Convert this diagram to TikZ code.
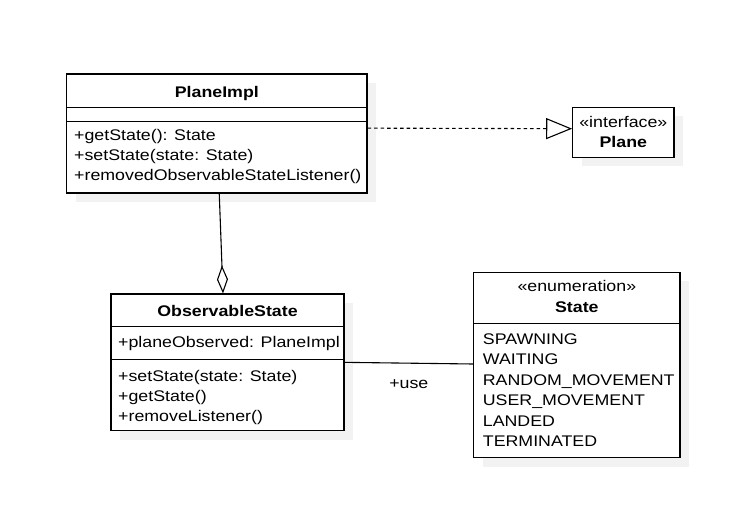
\documentclass[tikz,border=0pt]{standalone}
\usepackage{fontspec}
\setmainfont{Liberation Sans}[FakeStretch=1.155]
\usetikzlibrary{arrows.meta,shadows}

\begin{document}
\begin{tikzpicture}[x=1pt,y=-1pt]
\tikzset{
  classbox/.style={rectangle,draw=black,fill=white,line width=1.1pt,inner sep=0pt,
    drop shadow={shadow xshift=9pt,shadow yshift=-9pt,fill=black!5,opacity=1}},
  classname/.style={inner sep=0pt,anchor=base,font=\fontsize{15.4}{20}\selectfont\bfseries},
  stereotype/.style={inner sep=0pt,anchor=base,font=\fontsize{15.4}{20}\selectfont},
  member/.style={inner sep=0pt,anchor=base west,font=\fontsize{15.4}{20}\selectfont},
  divider/.style={draw=black,line width=1.1pt},
  umledge/.style={draw=black,line width=1.1pt},
  realizes/.style={umledge,dash pattern=on 3.5pt off 3pt,-{Triangle[open,length=26pt,width=21pt]}},
  aggregates/.style={umledge,-{Diamond[open,length=28pt,width=11pt]}},
  associates/.style={umledge}
}
\useasboundingbox (0,0) rectangle (753,513);
\node[classbox,minimum width=300.3pt,minimum height=119pt] (n_planeimpl) at (216.85,133.5) {};
\node[classbox,minimum width=101.3pt,minimum height=50pt] (n_plane) at (623.35,132.3) {};
\node[classbox,minimum width=233pt,minimum height=136.7pt] (n_observable) at (227.5,362.35) {};
\node[classbox,minimum width=206.3pt,minimum height=185.4pt] (n_state) at (576.85,365) {};
\draw[divider] ([yshift=-33.7pt]n_planeimpl.north west) -- ([yshift=-33.7pt]n_planeimpl.north east);
\draw[divider] ([yshift=-47.7pt]n_planeimpl.north west) -- ([yshift=-47.7pt]n_planeimpl.north east);
\draw[divider] ([yshift=-33.3pt]n_observable.north west) -- ([yshift=-33.3pt]n_observable.north east);
\draw[divider] ([yshift=-66pt]n_observable.north west) -- ([yshift=-66pt]n_observable.north east);
\draw[divider] ([yshift=-51.7pt]n_state.north west) -- ([yshift=-51.7pt]n_state.north east);
\node[classname] (n_planeimpl_name) at (216.85,97.5) {PlaneImpl};
\node[stereotype] (n_plane_st) at (623.35,128) {«interface»};
\node[classname] (n_plane_name) at (623.35,148) {Plane};
\node[classname] (n_observable_name) at (227.5,316.7) {ObservableState};
\node[stereotype] (n_state_st) at (576.85,292) {«enumeration»};
\node[classname] (n_state_name) at (576.85,312.8) {State};
\foreach \txt [count=\i] in {+getState(): State,+setState(state: State),+removedObservableStateListener()}
  \node[member] (n_planeimpl_m\i) at (74,{141+20*(\i-1)}) {\txt};
\node[member] (n_observable_a1) at (118,347.7) {+planeObserved: PlaneImpl};
\foreach \txt [count=\i] in {+setState(state: State),+getState(),+removeListener()}
  \node[member] (n_observable_m\i) at (118,{381.2+20.3*(\i-1)}) {\txt};
\foreach \txt [count=\i] in {SPAWNING,WAITING,RANDOM\_MOVEMENT,USER\_MOVEMENT,LANDED,TERMINATED}
  \node[member] (n_state_v\i) at (482.7,{344.3+20.5*(\i-1)}) {\txt};
\draw[realizes] ([yshift=-54.7pt]n_planeimpl.north east) -- ([yshift=3.6pt]n_plane.west);
\draw[aggregates] ([xshift=2.4pt]n_planeimpl.south) -- ([xshift=-4.5pt]n_observable.north);
\draw[associates] (n_observable.east) -- ([yshift=1pt]n_state.west)
  node[member,midway,anchor=base,yshift=-25pt] (n_use) {+use};
\end{tikzpicture}
\end{document}
